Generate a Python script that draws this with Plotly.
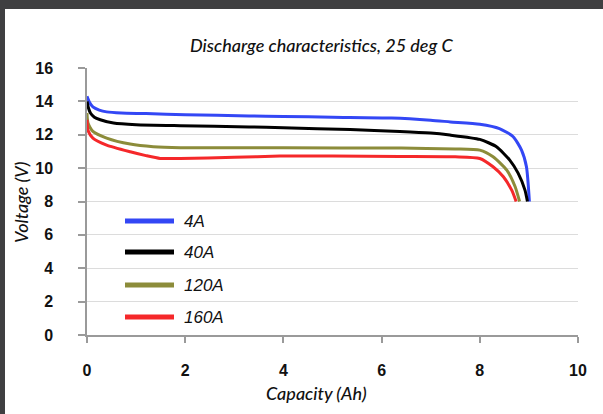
import plotly.graph_objects as go

# ---- data ----
series_names = ["4A", "40A", "120A", "160A"]
series_colors = ["#3347f5", "#000000", "#8c8c3a", "#f5282a"]

cap_4A = [0, 0.05, 0.12, 0.25, 0.4, 0.7, 1.2, 2, 3.3, 4, 5, 6.2, 7, 7.4, 8.0, 8.4, 8.68, 8.85, 8.95, 9.01]
v_4A = [14.3, 13.95, 13.67, 13.48, 13.37, 13.3, 13.27, 13.2, 13.13, 13.1, 13.05, 13.0, 12.87, 12.77, 12.63, 12.37, 11.88, 11.08, 10.08, 8.0]

cap_40A = [0, 0.03, 0.07, 0.15, 0.27, 0.54, 1.0, 1.9, 3.3, 4, 5.36, 6.37, 7.0, 7.39, 8.0, 8.34, 8.61, 8.78, 8.92, 8.97]
v_40A = [14.0, 13.6, 13.3, 13.05, 12.9, 12.7, 12.6, 12.54, 12.47, 12.42, 12.31, 12.2, 12.1, 11.98, 11.72, 11.28, 10.48, 9.7, 8.68, 8.0]

cap_120A = [0, 0.02, 0.12, 0.4, 0.88, 1.35, 1.9, 4, 6.4, 7.5, 8.0, 8.27, 8.55, 8.72, 8.81]
v_120A = [13.3, 12.7, 12.2, 11.8, 11.44, 11.28, 11.22, 11.22, 11.2, 11.15, 11.08, 10.68, 9.88, 8.88, 8.0]

cap_160A = [0, 0.02, 0.12, 0.4, 0.88, 1.2, 1.49, 1.9, 3, 3.93, 5, 6.37, 7.5, 8.0, 8.27, 8.48, 8.65, 8.74]
v_160A = [12.9, 12.27, 11.8, 11.38, 10.98, 10.75, 10.58, 10.58, 10.65, 10.72, 10.72, 10.7, 10.68, 10.58, 10.08, 9.48, 8.68, 8.0]

x_ticks = [0, 2, 4, 6, 8, 10]
y_ticks = [0, 2, 4, 6, 8, 10, 12, 14, 16]

title_text = "Discharge characteristics, 25 deg C"
x_title = "Capacity (Ah)"
y_title = "Voltage (V)"

caps = [cap_4A, cap_40A, cap_120A, cap_160A]
volts = [v_4A, v_40A, v_120A, v_160A]

# ---- figure ----
W, H = 603, 414
ml, mr, mt, mb = 87, 25, 68, 79
pw, ph = W - ml - mr, H - mt - mb

def px_x(px):
    return (px - ml) / pw

def px_y(py):
    return (H - mb - py) / ph

fig = go.Figure()
for name, color, xs, ys in zip(series_names, series_colors, caps, volts):
    fig.add_trace(go.Scatter(x=xs, y=ys, mode="lines", name=name,
                             line=dict(color=color, width=3, shape="spline", smoothing=0.6),
                             showlegend=False))

shapes = []
annotations = []
# dark frame of the screenshot
shapes.append(dict(type="rect", xref="paper", yref="paper", x0=px_x(-5), x1=px_x(W + 5),
                   y0=px_y(9), y1=px_y(-5), fillcolor="#3f3f41", line=dict(width=0), layer="above"))
shapes.append(dict(type="rect", xref="paper", yref="paper", x0=px_x(-5), x1=px_x(5),
                   y0=px_y(H + 5), y1=px_y(-5), fillcolor="#3f3f41", line=dict(width=0), layer="above"))

# manual legend
legend_rows = [221, 252, 285, 317]
for name, color, py in zip(series_names, series_colors, legend_rows):
    shapes.append(dict(type="line", xref="paper", yref="paper", x0=px_x(125), x1=px_x(174),
                       y0=px_y(py), y1=px_y(py), line=dict(color=color, width=5)))
    annotations.append(dict(text=name, xref="paper", yref="paper", x=px_x(182), y=px_y(py),
                            xanchor="left", yanchor="middle", showarrow=False,
                            font=dict(family="Liberation Sans, Arial", size=17, style="italic", color="#111")))

# axis titles
annotations.append(dict(text=y_title, xref="paper", yref="paper", x=px_x(21), y=px_y(203),
                        textangle=-90, showarrow=False, xanchor="center", yanchor="middle",
                        font=dict(family="Lato", size=18, style="italic", weight=500, color="#111")))
annotations.append(dict(text=x_title, xref="paper", yref="paper", x=px_x(316), y=px_y(393),
                        showarrow=False, xanchor="center", yanchor="middle",
                        font=dict(family="Lato", size=18, style="italic", weight=500, color="#111")))
annotations.append(dict(text=title_text, xref="paper", yref="paper", x=px_x(321), y=px_y(45),
                        showarrow=False, xanchor="center", yanchor="middle",
                        font=dict(family="Lato", size=18, style="italic", weight=500, color="#111")))

tick_font = dict(family="Liberation Sans, Arial", size=16, weight="bold", color="#111")

fig.update_layout(
    width=W, height=H,
    margin=dict(l=ml, r=mr, t=mt, b=mb, pad=0),
    paper_bgcolor="white", plot_bgcolor="white",
    showlegend=False,
    shapes=shapes, annotations=annotations,
    xaxis=dict(range=[0, 10], tickvals=x_ticks, ticktext=[str(t) for t in x_ticks],
               showgrid=False, zeroline=False, showline=True, linecolor="#9a9a9a", linewidth=1.5,
               ticks="outside", ticklen=6, tickcolor="#9a9a9a", tickwidth=1.5,
               tickfont=tick_font, ticklabelstandoff=14, fixedrange=True),
    yaxis=dict(range=[0, 16], tickvals=y_ticks, ticktext=[str(t) for t in y_ticks],
               showgrid=True, gridcolor="#dcdcdc", gridwidth=1, zeroline=False,
               showline=True, linecolor="#9a9a9a", linewidth=1.5,
               ticks="outside", ticklen=7, tickcolor="#9a9a9a", tickwidth=1.5,
               tickfont=tick_font, ticklabelstandoff=22, fixedrange=True),
)

fig.write_html("out.html", include_plotlyjs=True, config={"displayModeBar": False},
               post_script="document.body.style.margin='0';document.body.style.overflow='hidden';")
